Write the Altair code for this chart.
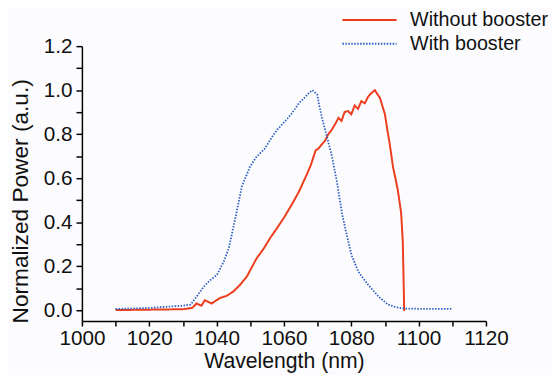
import altair as alt
import pandas as pd

# Without booster (red, solid)
red_x = [1010, 1020, 1030, 1032.8, 1034, 1035.5, 1036.5, 1037.2, 1038.5, 1040, 1041, 1043, 1045, 1047, 1049,
         1051.8, 1054, 1056, 1057.7, 1060, 1062.6, 1064.5, 1066.5, 1068, 1069.4, 1070.3, 1071.4, 1072.2, 1073.2,
         1074.2, 1075.2, 1076.2, 1077.1, 1078, 1079, 1080, 1081, 1082, 1083, 1084, 1085, 1086, 1087, 1087.6,
         1088.5, 1089.2, 1090, 1090.7, 1091.4, 1092.4, 1093.1, 1093.8, 1094.8, 1095.3, 1095.6, 1095.7, 1096]
red_y = [0.0, 0.002, 0.004, 0.01, 0.03, 0.02, 0.045, 0.04, 0.03, 0.045, 0.055, 0.065, 0.085, 0.115, 0.153,
         0.233, 0.28, 0.33, 0.367, 0.42, 0.487, 0.54, 0.607, 0.66, 0.726, 0.735, 0.756, 0.77, 0.80,
         0.82, 0.845, 0.874, 0.86, 0.9, 0.905, 0.89, 0.93, 0.915, 0.95, 0.94, 0.97, 0.987, 1.0, 0.985,
         0.965, 0.93, 0.89, 0.82, 0.757, 0.65, 0.6, 0.547, 0.443, 0.31, 0.086, 0.0, 0.0]

# With booster (blue, dotted)
blue_x = [1010, 1020, 1030, 1032.3, 1034, 1036.2, 1038.2, 1040.1, 1042.1, 1043.6, 1045.5, 1047.5, 1049.9,
          1051.8, 1054.3, 1056.7, 1058, 1059.6, 1061, 1062.1, 1063.3, 1064.5, 1065.8, 1067, 1068.4, 1069.9,
          1070.4, 1071.4, 1072.8, 1074.3, 1075.8, 1077.2, 1078.7, 1080.1, 1082.1, 1085, 1088, 1090.9, 1093.3,
          1095.8, 1100, 1105, 1110]
blue_y = [0.005, 0.01, 0.02, 0.025, 0.06, 0.107, 0.137, 0.16, 0.22, 0.28, 0.413, 0.562, 0.651,
          0.696, 0.734, 0.793, 0.82, 0.846, 0.87, 0.89, 0.915, 0.942, 0.96, 0.98, 1.0, 0.98,
          0.935, 0.868, 0.786, 0.696, 0.577, 0.443, 0.338, 0.249, 0.174, 0.115, 0.063, 0.025, 0.013,
          0.007, 0.006, 0.006, 0.006]

series = ["Without booster", "With booster"]
colors = ["#EC3D1F", "#2A5EC4"]

red_df = pd.DataFrame({"wl": red_x, "p": red_y, "s": series[0]})
blue_df = pd.DataFrame({"wl": blue_x, "p": blue_y, "s": series[1]})

x_ticks = list(range(1000, 1121, 10))
y_ticks = [round(i * 0.1, 1) for i in range(0, 13)]

FONT = "Liberation Sans"

x_enc = alt.X("wl:Q", scale=alt.Scale(domain=[1000, 1120], nice=False, zero=False),
              axis=alt.Axis(title="Wavelength (nm)", values=x_ticks,
                            titleY=47, titleBaseline="alphabetic", titleFontSize=21.5,
                            labelExpr="datum.value % 20 == 0 ? datum.value : ''"))
y_enc = alt.Y("p:Q", scale=alt.Scale(domain=[-0.05, 1.2], nice=False, zero=False),
              axis=alt.Axis(title="Normalized Power (a.u.)", values=y_ticks,
                            titleX=-62, titleY=157, titleAlign="center", titleBaseline="middle",
                            titleAngle=270,
                            labelExpr="round(datum.value*10) % 2 == 0 ? format(datum.value, '.1f') : ''"))
color_enc = alt.Color("s:N", scale=alt.Scale(domain=series, range=colors),
                      legend=alt.Legend(title=None, orient="none", legendX=263, legendY=-37,
                                        symbolType="M-1,0L5,0", symbolSize=336, symbolStrokeWidth=2,
                                        labelFontSize=20, labelFont=FONT, labelColor="#111",
                                        labelOffset=49, rowPadding=3, labelLimit=300))
dash_enc = alt.StrokeDash("s:N", scale=alt.Scale(domain=series, range=[[1, 0], [1.5, 1.5]]), legend=None)

red = alt.Chart(red_df).mark_line(strokeWidth=2).encode(x=x_enc, y=y_enc, color=color_enc, strokeDash=dash_enc)
blue = alt.Chart(blue_df).mark_line(strokeWidth=1.8).encode(x=x_enc, y=y_enc, color=color_enc, strokeDash=dash_enc)

chart = alt.layer(red, blue).properties(
    width=410, height=279,
    autosize=alt.AutoSizeParams(type="none"),
    padding={"left": 75, "top": 36, "right": 67, "bottom": 52},
    background="#FCFCFE",
).configure_view(stroke=None).configure_axis(
    grid=False, domainColor="#000", domainWidth=1.5, tickColor="#000", tickWidth=1.5, tickSize=5,
    labelFont=FONT, labelFontSize=21, labelColor="#111", labelPadding=3,
    titleFont=FONT, titleFontSize=23, titleFontWeight="normal", titleColor="#111",
).configure_axisX(labelFlush=False, labelPadding=2).configure_axisY(labelPadding=4, tickSize=6, labelFlush=False)

chart.save("out.html", embed_options={"renderer": "svg", "actions": False})
